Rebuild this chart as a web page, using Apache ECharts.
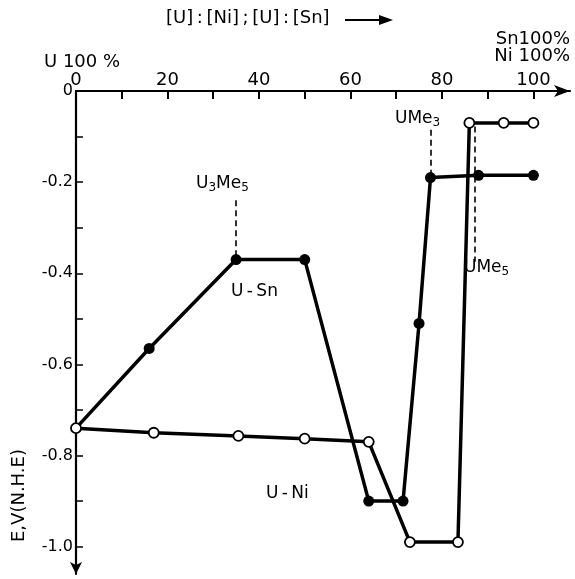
<!DOCTYPE html>
<html>
<head>
<meta charset="utf-8">
<script src="https://cdn.jsdelivr.net/npm/echarts@6/dist/echarts.min.js"></script>
<style>
  html, body { margin: 0; padding: 0; background: #fff; }
  #chart { width: 575px; height: 579px; }
</style>
</head>
<body>
<div id="chart"></div>
<script>
// Composition, % of second metal ([U]:[Ni] or [U]:[Sn])
const snX = [0, 16, 35, 50, 64, 71.5, 75, 77.5, 88, 100];
// Potential E, V (N.H.E) of U–Sn alloys
const snY = [-0.74, -0.565, -0.37, -0.37, -0.90, -0.90, -0.51, -0.19, -0.185, -0.185];

const niX = [0, 17, 35.5, 50, 64, 73, 83.5, 86, 93.5, 100];
// Potential E, V (N.H.E) of U–Ni alloys
const niY = [-0.74, -0.75, -0.757, -0.763, -0.77, -0.99, -0.99, -0.07, -0.07, -0.07];

// Axis ticks and labels
const xLabelValues = [0, 20, 40, 60, 80, 100];
const xTickValues = [0, 10, 20, 30, 40, 50, 60, 70, 80, 90, 100];
const yLabelValues = [0, -0.2, -0.4, -0.6, -0.8, -1.0];
const yTickValues = [0, -0.1, -0.2, -0.3, -0.4, -0.5, -0.6, -0.7, -0.8, -0.9, -1.0];

// Intermetallic compounds: [x, yTop, yBottom]
const u3me5 = [35, -0.24, -0.37];
const ume3 = [77.5, -0.085, -0.19];
const ume5 = [87.2, -0.078, -0.375];

const FONT = 'DejaVu Sans';
const chart = echarts.init(document.getElementById('chart'), null, { renderer: 'canvas' });

function pairs(xs, ys) { return xs.map((x, i) => [x, ys[i]]); }
function dashed(c) { return [{ coord: [c[0], c[1]] }, { coord: [c[0], c[2]] }]; }
function txt(text, pos, size, extra) {
  return Object.assign({ type: 'text', style: Object.assign({ text: text, fontFamily: FONT, fontSize: size, fill: '#000' }, extra || {}) }, pos);
}
function subLabel(base, sub) {
  return {
    text: '{a|' + base[0] + '}' + (base.length > 1 ? '{s|' + base[1] + '}{a|' + base[2] + '}' : '') + '{s|' + sub + '}',
    rich: {
      a: { fontFamily: FONT, fontSize: 17, fill: '#000' },
      s: { fontFamily: FONT, fontSize: 12, fill: '#000', padding: [9, 0, 0, 0] }
    }
  };
}

const snData = pairs(snX, snY).map((p, i) => i === 0 ? { value: p, symbol: 'none' } : p);

const option = {
  backgroundColor: '#fff',
  animation: false,
  grid: { left: 76, top: 91, right: 5, bottom: 5 },
  xAxis: {
    type: 'value', position: 'top', min: 0, max: 108,
    axisLine: { show: true, onZero: false, lineStyle: { color: '#000', width: 2.2 },
      symbol: ['none', 'arrow'], symbolSize: [9, 16] },
    axisTick: { show: true, inside: true, length: 8, lineStyle: { color: '#000', width: 2 },
      customValues: xTickValues },
    axisLabel: { customValues: xLabelValues, color: '#000', fontFamily: FONT, fontSize: 18, margin: 2 },
    splitLine: { show: false }
  },
  yAxis: {
    type: 'value', min: -1.06, max: 0,
    axisLine: { show: true, onZero: false, lineStyle: { color: '#000', width: 2.2 },
      symbol: ['arrow', 'none'], symbolSize: [9, 12] },
    axisTick: { show: true, inside: true, length: 7, lineStyle: { color: '#000', width: 1.5 },
      customValues: yTickValues },
    axisLabel: { customValues: yLabelValues, color: '#000', fontFamily: FONT, fontSize: 16, margin: 3,
      formatter: v => v === 0 ? '0' : v.toFixed(1) },
    splitLine: { show: false }
  },
  series: [
    {
      name: 'U-Sn', type: 'line', data: snData, z: 2,
      symbol: 'circle', symbolSize: 11,
      itemStyle: { color: '#000' },
      lineStyle: { color: '#000', width: 3.5 },
      markLine: {
        silent: true, symbol: 'none', label: { show: false },
        lineStyle: { color: '#000', width: 1.6, type: [6, 4] },
        data: [dashed(u3me5), dashed(ume3), dashed(ume5)]
      }
    },
    {
      name: 'U-Ni', type: 'line', data: pairs(niX, niY), z: 3,
      symbol: 'circle', symbolSize: 10,
      itemStyle: { color: '#fff', borderColor: '#000', borderWidth: 1.8 },
      lineStyle: { color: '#000', width: 3.5 }
    }
  ],
  graphic: [
    txt('[U]\u2009:\u2009[Ni]\u2009;\u2009[U]\u2009:\u2009[Sn]', { left: 166, top: 9 }, 18),
    { type: 'line', shape: { x1: 345, y1: 20, x2: 384, y2: 20 }, style: { stroke: '#000', lineWidth: 2 } },
    { type: 'polygon', shape: { points: [[379, 15], [393, 20], [379, 25]] }, style: { fill: '#000' } },
    txt('U 100 %', { left: 44, top: 53 }, 18),
    txt('Sn100%', { right: 5, top: 30 }, 18),
    txt('Ni 100%', { right: 5, top: 47 }, 18),
    txt('E,V(N.H.E)', { x: 10, y: 542, rotation: Math.PI / 2 }, 18),
    { type: 'text', left: 196, top: 175, style: subLabel(['U', '3', 'Me'], '5') },
    txt('U\u2009-\u2009Sn', { left: 231, top: 283 }, 17),
    txt('U\u2009-\u2009Ni', { left: 266, top: 485 }, 17),
    { type: 'text', left: 395, top: 110, style: subLabel(['UMe'], '3') },
    { type: 'text', left: 464, top: 259, style: subLabel(['UMe'], '5') }
  ]
};
chart.setOption(option);
</script>
</body>
</html>
